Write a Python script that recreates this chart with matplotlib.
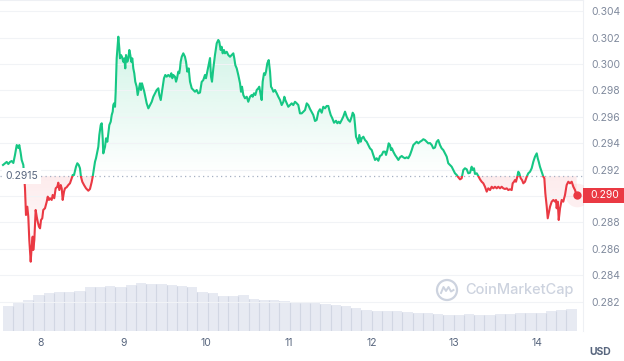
import numpy as np
import matplotlib
matplotlib.use("Agg")
import matplotlib.pyplot as plt
from matplotlib.patches import Rectangle, Ellipse
from matplotlib.lines import Line2D
from matplotlib.path import Path
from matplotlib.transforms import blended_transform_factory
from matplotlib.colors import to_rgb

plt.rcParams['font.family'] = ['Inter', 'DejaVu Sans']

# day of month (fractional) and price in USD
times = [
    7.544, 7.589, 7.608, 7.629, 7.649, 7.669, 7.689, 7.710, 7.729, 7.741,
    7.758, 7.770, 7.790, 7.810, 7.822, 7.838, 7.850, 7.862, 7.879, 7.891,
    7.903, 7.910, 7.923, 7.939, 7.952, 7.964, 7.979, 7.992, 8.004, 8.019,
    8.031, 8.052, 8.073, 8.085, 8.100, 8.112, 8.133, 8.145, 8.164, 8.181,
    8.201, 8.213, 8.225, 8.242, 8.254, 8.266, 8.282, 8.294, 8.314, 8.334,
    8.354, 8.375, 8.387, 8.403, 8.427, 8.443, 8.460, 8.475, 8.487, 8.503,
    8.524, 8.548, 8.576, 8.596, 8.617, 8.629, 8.645, 8.657, 8.669, 8.685,
    8.697, 8.709, 8.726, 8.738, 8.750, 8.757, 8.778, 8.790, 8.806, 8.818,
    8.830, 8.847, 8.859, 8.871, 8.878, 8.887, 8.899, 8.907, 8.919, 8.927,
    8.939, 8.951, 8.959, 8.971, 8.983, 8.999, 9.011, 9.023, 9.032, 9.048,
    9.060, 9.072, 9.084, 9.096, 9.108, 9.120, 9.132, 9.144, 9.161, 9.173,
    9.189, 9.201, 9.213, 9.225, 9.241, 9.253, 9.265, 9.282, 9.302, 9.322,
    9.343, 9.362, 9.383, 9.403, 9.423, 9.435, 9.452, 9.464, 9.476, 9.491,
    9.507, 9.524, 9.543, 9.564, 9.580, 9.592, 9.604, 9.624, 9.637, 9.649,
    9.664, 9.676, 9.685, 9.693, 9.706, 9.725, 9.745, 9.758, 9.773, 9.790,
    9.806, 9.827, 9.846, 9.866, 9.887, 9.906, 9.927, 9.947, 9.967, 9.987,
    9.999, 10.015, 10.032, 10.048, 10.060, 10.072, 10.088, 10.108, 10.129, 10.148,
    10.160, 10.177, 10.189, 10.201, 10.217, 10.229, 10.250, 10.269, 10.290, 10.310,
    10.330, 10.342, 10.354, 10.371, 10.390, 10.411, 10.423, 10.435, 10.451, 10.471,
    10.492, 10.511, 10.532, 10.552, 10.564, 10.580, 10.596, 10.613, 10.632, 10.644,
    10.661, 10.673, 10.685, 10.701, 10.713, 10.725, 10.741, 10.758, 10.774, 10.786,
    10.798, 10.814, 10.834, 10.855, 10.874, 10.895, 10.915, 10.935, 10.947, 10.959,
    10.976, 10.995, 11.016, 11.036, 11.055, 11.076, 11.097, 11.116, 11.136, 11.157,
    11.177, 11.197, 11.218, 11.237, 11.258, 11.278, 11.297, 11.318, 11.338, 11.358,
    11.378, 11.399, 11.418, 11.439, 11.459, 11.479, 11.491, 11.508, 11.527, 11.548,
    11.572, 11.588, 11.605, 11.620, 11.641, 11.660, 11.681, 11.701, 11.721, 11.741,
    11.762, 11.774, 11.790, 11.802, 11.814, 11.830, 11.842, 11.854, 11.871, 11.883,
    11.903, 11.923, 11.943, 11.963, 11.983, 12.004, 12.023, 12.044, 12.064, 12.084,
    12.104, 12.125, 12.144, 12.165, 12.177, 12.193, 12.209, 12.225, 12.237, 12.249,
    12.265, 12.286, 12.306, 12.326, 12.346, 12.367, 12.386, 12.406, 12.427, 12.446,
    12.467, 12.488, 12.507, 12.528, 12.548, 12.568, 12.588, 12.609, 12.628, 12.648,
    12.669, 12.688, 12.709, 12.730, 12.749, 12.769, 12.790, 12.809, 12.830, 12.850,
    12.870, 12.890, 12.911, 12.930, 12.951, 12.971, 12.991, 13.011, 13.032, 13.051,
    13.072, 13.092, 13.112, 13.132, 13.153, 13.172, 13.193, 13.213, 13.225, 13.241,
    13.253, 13.274, 13.293, 13.314, 13.334, 13.354, 13.374, 13.395, 13.414, 13.435,
    13.455, 13.475, 13.495, 13.516, 13.535, 13.556, 13.576, 13.596, 13.616, 13.637,
    13.656, 13.677, 13.697, 13.709, 13.725, 13.737, 13.749, 13.765, 13.777, 13.789,
    13.806, 13.822, 13.838, 13.858, 13.879, 13.898, 13.919, 13.939, 13.959, 13.979,
    14.000, 14.012, 14.024, 14.039, 14.060, 14.080, 14.092, 14.104, 14.121, 14.133,
    14.145, 14.161, 14.181, 14.201, 14.221, 14.233, 14.241, 14.254, 14.266, 14.282,
    14.302, 14.321, 14.342, 14.362, 14.382, 14.402, 14.423, 14.443, 14.463, 14.483,
]
prices = [
    0.29235, 0.29258, 0.29242, 0.29258, 0.29265, 0.29250, 0.29311, 0.29386, 0.29364, 0.29386,
    0.29326, 0.29273, 0.29235, 0.29058, 0.28856, 0.28919, 0.28843, 0.28667, 0.28502, 0.28616,
    0.28692, 0.28591, 0.28667, 0.28894, 0.28843, 0.28805, 0.28767, 0.28755, 0.28818, 0.28831,
    0.28894, 0.28907, 0.28957, 0.28995, 0.28970, 0.28983, 0.28970, 0.29008, 0.28983, 0.29058,
    0.29070, 0.29101, 0.29045, 0.29083, 0.29058, 0.28970, 0.29033, 0.29058, 0.29066, 0.29083,
    0.29096, 0.29134, 0.29159, 0.29159, 0.29222, 0.29248, 0.29235, 0.29210, 0.29146, 0.29108,
    0.29083, 0.29058, 0.29040, 0.29053, 0.29106, 0.29146, 0.29210, 0.29260, 0.29286, 0.29336,
    0.29373, 0.29462, 0.29538, 0.29551, 0.29437, 0.29323, 0.29373, 0.29437, 0.29411, 0.29475,
    0.29538, 0.29563, 0.29614, 0.29639, 0.29689, 0.29702, 0.29676, 0.29790, 0.30043, 0.30106,
    0.30207, 0.30119, 0.30043, 0.30068, 0.30055, 0.30017, 0.30043, 0.29967, 0.30068, 0.30017,
    0.30043, 0.30106, 0.30068, 0.30017, 0.30043, 0.29967, 0.29930, 0.29866, 0.29828, 0.29765,
    0.29816, 0.29854, 0.29803, 0.29854, 0.29816, 0.29790, 0.29752, 0.29702, 0.29664, 0.29689,
    0.29714, 0.29752, 0.29778, 0.29803, 0.29816, 0.29765, 0.29727, 0.29778, 0.29828, 0.29892,
    0.29917, 0.29904, 0.29917, 0.29904, 0.29930, 0.29892, 0.29917, 0.29904, 0.29866, 0.29892,
    0.29942, 0.29930, 0.29967, 0.30017, 0.30055, 0.30081, 0.30055, 0.30017, 0.29942, 0.29967,
    0.29866, 0.29816, 0.29803, 0.29790, 0.29803, 0.29778, 0.29784, 0.29864, 0.29879, 0.29917,
    0.29892, 0.29942, 0.29992, 0.30045, 0.29904, 0.29866, 0.29967, 0.30068, 0.30157, 0.30182,
    0.30169, 0.30106, 0.30131, 0.30081, 0.30106, 0.30081, 0.30093, 0.30068, 0.30055, 0.30068,
    0.30081, 0.30043, 0.29992, 0.29967, 0.29917, 0.29854, 0.29790, 0.29828, 0.29765, 0.29740,
    0.29752, 0.29714, 0.29752, 0.29765, 0.29752, 0.29778, 0.29765, 0.29803, 0.29816, 0.29828,
    0.29765, 0.29727, 0.29866, 0.29930, 0.29917, 0.29942, 0.30005, 0.30030, 0.29942, 0.29828,
    0.29816, 0.29790, 0.29803, 0.29778, 0.29752, 0.29727, 0.29689, 0.29714, 0.29752, 0.29727,
    0.29702, 0.29676, 0.29689, 0.29702, 0.29689, 0.29714, 0.29702, 0.29689, 0.29626, 0.29626,
    0.29639, 0.29651, 0.29702, 0.29689, 0.29659, 0.29636, 0.29614, 0.29568, 0.29576, 0.29636,
    0.29657, 0.29631, 0.29676, 0.29664, 0.29682, 0.29682, 0.29651, 0.29614, 0.29589, 0.29555,
    0.29570, 0.29551, 0.29563, 0.29551, 0.29576, 0.29601, 0.29639, 0.29601, 0.29576, 0.29563,
    0.29601, 0.29631, 0.29614, 0.29538, 0.29449, 0.29424, 0.29399, 0.29462, 0.29411, 0.29437,
    0.29449, 0.29424, 0.29411, 0.29386, 0.29361, 0.29348, 0.29311, 0.29273, 0.29286, 0.29267,
    0.29303, 0.29311, 0.29336, 0.29336, 0.29311, 0.29348, 0.29399, 0.29386, 0.29348, 0.29361,
    0.29336, 0.29311, 0.29293, 0.29273, 0.29293, 0.29303, 0.29293, 0.29286, 0.29293, 0.29286,
    0.29311, 0.29348, 0.29386, 0.29399, 0.29411, 0.29399, 0.29411, 0.29419, 0.29430, 0.29424,
    0.29411, 0.29399, 0.29401, 0.29386, 0.29361, 0.29367, 0.29411, 0.29424, 0.29386, 0.29361,
    0.29348, 0.29323, 0.29298, 0.29248, 0.29235, 0.29222, 0.29197, 0.29172, 0.29159, 0.29142,
    0.29126, 0.29134, 0.29197, 0.29210, 0.29202, 0.29172, 0.29176, 0.29222, 0.29197, 0.29210,
    0.29167, 0.29172, 0.29151, 0.29126, 0.29108, 0.29096, 0.29070, 0.29033, 0.29058, 0.29045,
    0.29070, 0.29058, 0.29070, 0.29058, 0.29070, 0.29058, 0.29070, 0.29058, 0.29053, 0.29058,
    0.29045, 0.29051, 0.29045, 0.29096, 0.29108, 0.29121, 0.29108, 0.29146, 0.29184, 0.29172,
    0.29134, 0.29121, 0.29096, 0.29108, 0.29146, 0.29172, 0.29184, 0.29210, 0.29260, 0.29298,
    0.29323, 0.29286, 0.29260, 0.29222, 0.29184, 0.29146, 0.29134, 0.29020, 0.28919, 0.28831,
    0.28869, 0.28919, 0.28957, 0.28970, 0.28957, 0.28970, 0.28907, 0.28957, 0.28818, 0.28907,
    0.28970, 0.28957, 0.29008, 0.29083, 0.29108, 0.29096, 0.29108, 0.29070, 0.29045, 0.29004,
]
# 3-hour volume buckets (relative heights)
volume = [
    25, 28, 31, 36, 38.3, 38.7, 39, 39.7, 43.7, 44.3,
    45, 44.3, 46, 47.7, 47.3, 47, 46.3, 45, 43.7, 39.3,
    37.7, 35.3, 35, 35.7, 31.7, 31, 30.7, 30.3, 28.7, 28.3,
    28.3, 26.7, 26, 25, 23.3, 21, 20.3, 20.3, 19.7, 19,
    18.3, 17.7, 17, 16, 16.3, 16.7, 15.7, 16.3, 16.7, 17,
    17.7, 18.3, 17.7, 20, 20.7, 21.7,
]
vol_start = 7.54
vol_bucket = 0.124
base_price = 0.2915
day_ticks = [8, 9, 10, 11, 12, 13, 14]
price_ticks = [0.282, 0.284, 0.286, 0.288, 0.290, 0.292,
               0.294, 0.296, 0.298, 0.300, 0.302, 0.304]

GREEN = '#16c784'
RED = '#ea3943'
LABEL = '#808a9d'
DARK = '#58667e'

W, H = 624, 361
XLIM = (7.5077, 14.556)
YLIM = (0.27977, 0.30485)


def gradient_fill(ax, t, p, base, above, color, a_base, a_far, far):
    if above:
        coll = ax.fill_between(t, p, base, where=p >= base, interpolate=True, lw=0)
        lo, hi = base, far
        alphas = np.linspace(a_base, a_far, 256)
    else:
        coll = ax.fill_between(t, p, base, where=p <= base, interpolate=True, lw=0)
        lo, hi = far, base
        alphas = np.linspace(a_far, a_base, 256)
    path = Path.make_compound_path(*coll.get_paths())
    coll.remove()
    rgba = np.zeros((256, 1, 4))
    rgba[..., :3] = to_rgb(color)
    rgba[:, 0, 3] = alphas
    im = ax.imshow(rgba, extent=[t[0], t[-1], lo, hi], origin='lower',
                   aspect='auto', zorder=1, interpolation='bilinear')
    im.set_clip_path(path, ax.transData)


def main():
    t = np.array(times)
    p = np.array(prices)
    vol = np.array(volume)

    fig = plt.figure(figsize=(W / 100, H / 100), dpi=100)
    rect = [0, 30 / H, 582.7 / W, 331 / H]

    # volume bars underneath
    axv = fig.add_axes(rect, zorder=0)
    lefts = vol_start + np.arange(len(vol)) * vol_bucket
    axv.bar(lefts, vol, width=vol_bucket, align='edge', color='#e7eaf2', lw=0)
    axv.vlines(lefts[1:], 0, np.minimum(vol[:-1], vol[1:]), color='#d2d7e3', lw=0.8)
    axv.set_xlim(*XLIM)
    axv.set_ylim(0, vol.max() * 6.94)
    axv.axis('off')

    ax = fig.add_axes(rect, zorder=1)
    ax.patch.set_visible(False)

    gradient_fill(ax, t, p, base_price, True, GREEN, 0.0, 0.2, p.max())
    gradient_fill(ax, t, p, base_price, False, RED, 0.1, 0.0, p.min())

    span = XLIM[1] - XLIM[0]
    up, = ax.plot(t, p, color=GREEN, lw=1.5, zorder=3, solid_joinstyle='round')
    up.set_clip_path(Rectangle((XLIM[0], base_price), span, 1, transform=ax.transData))
    dn, = ax.plot(t, p, color=RED, lw=1.5, zorder=3, solid_joinstyle='round')
    dn.set_clip_path(Rectangle((XLIM[0], base_price - 1), span, 1, transform=ax.transData))

    ax.plot(t[-1], p[-1], 'o', ms=17, color=RED, alpha=0.08, mec='none', zorder=4)
    ax.plot(t[-1], p[-1], 'o', ms=6, color=RED, mec='none', zorder=5)

    ax.axhline(base_price, color='#a6b0c3', lw=0.9, ls=(0, (1, 2.6)), zorder=2)
    bt = blended_transform_factory(ax.transAxes, ax.transData)
    ax.text(5 / 582.7, base_price, f'{base_price:.4f}', transform=bt, va='center',
            ha='left', fontsize=7.5, color=DARK, zorder=6,
            bbox=dict(fc='white', ec='none', pad=2.2))

    ax.set_xlim(*XLIM)
    ax.set_ylim(*YLIM)
    ax.set_xticks(day_ticks)
    ax.set_xticklabels([str(d) for d in day_ticks])
    ax.set_yticks(price_ticks)
    ax.set_yticklabels([f'{v:.3f}' for v in price_ticks])
    ax.yaxis.tick_right()
    ax.tick_params(axis='y', length=0, pad=6, labelsize=7.5, labelcolor=LABEL)
    ax.tick_params(axis='x', length=0, pad=5, labelsize=7.5, labelcolor=DARK)
    ax.grid(axis='y', color='#f1f3f6', lw=0.8, zorder=0)
    for side in ['left', 'bottom']:
        ax.spines[side].set_visible(False)
    for side in ['top', 'right']:
        ax.spines[side].set_color('#eef0f4')
        ax.spines[side].set_linewidth(0.8)

    # current price tag on the axis
    ft = blended_transform_factory(fig.transFigure, ax.transData)
    px = (YLIM[1] - YLIM[0]) / 331
    fig.add_artist(Rectangle((583 / W, p[-1] - 7.5 * px), (W - 583) / W, 15 * px,
                             transform=ft, fc=RED, ec='none', zorder=5))
    fig.text(590 / W, p[-1], f'{p[-1]:.3f}', transform=ft, va='center', ha='left',
             fontsize=7.5, color='white', zorder=6)

    fig.text(600 / W, 1 - 352 / H, 'USD', ha='center', va='center', fontsize=7.5,
             fontweight='bold', color=DARK)

    # watermark
    wm = '#cdd3df'
    cx, cy = 447 / W, 1 - 290 / H
    fig.add_artist(Ellipse((cx, cy), 20 / W, 20 / H, fc='none', ec=wm, lw=1.6))
    wave = [(-6, -3), (-3.5, 3), (-1, -1), (1.5, 3), (4, -1.5), (6.5, 0)]
    fig.add_artist(Line2D([cx + dx / W for dx, dy in wave],
                          [cy + dy / H for dx, dy in wave], color=wm, lw=1.4))
    fig.text(465 / W, cy, 'CoinMarketCap', ha='left', va='center', fontsize=10.5,
             color=wm, fontweight='medium')

    fig.savefig('out.png', dpi=100)


if __name__ == "__main__":
    main()
